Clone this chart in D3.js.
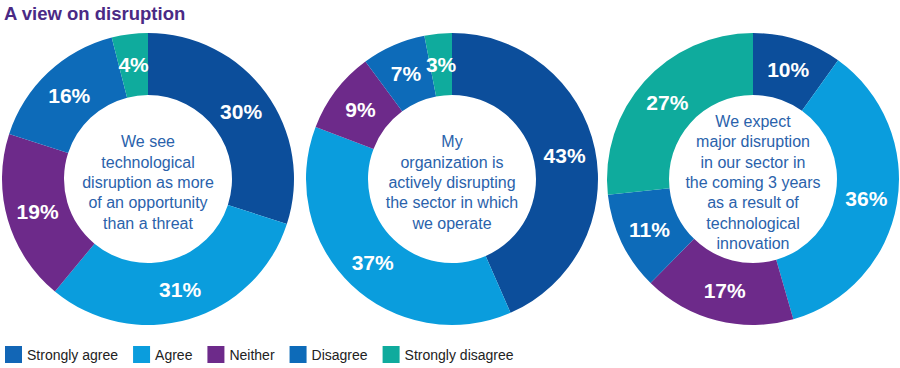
<!DOCTYPE html>
<html>
<head>
<meta charset="utf-8">
<script src="https://cdn.jsdelivr.net/npm/d3@7"></script>
<style>
  body { margin: 0; background: #fff; }
  svg { display: block; font-family: "Liberation Sans", Arial, sans-serif; }
</style>
</head>
<body>
<div id="chart"></div>
<script>
// data
const categories = ["Strongly agree", "Agree", "Neither", "Disagree", "Strongly disagree"];
const valuesOpportunity = [30, 31, 19, 16, 4];
const valuesDisrupting = [43, 37, 9, 7, 3];
const valuesExpect = [10, 36, 17, 11, 27];
const statements = [
    ["We see", "technological", "disruption as more", "of an opportunity", "than a threat"],
    ["My", "organization is", "actively disrupting", "the sector in which", "we operate"],
    ["We expect", "major disruption", "in our sector in", "the coming 3 years", "as a result of", "technological", "innovation"]
];
const title = "A view on disruption";

const colors = ["#0c4e9b", "#0a9ddd", "#6d2a8a", "#0d6bb9", "#0fab9d"];

const width = 900, height = 368;

const svg = d3.select("#chart").append("svg")
    .attr("width", width)
    .attr("height", height);

svg.append("text")
    .attr("x", 4)
    .attr("y", 20)
    .attr("fill", "#4a2a85")
    .style("font-size", "18.5px")
    .style("font-weight", "bold")
    .text(title);

let color = d3.scaleOrdinal().domain(categories).range(colors);

const pie = d3.pie().sort(null).value(d => d.value);
const outerR = 146, innerR = 84;
const arc = d3.arc().innerRadius(innerR).outerRadius(outerR);

const donuts = [
    {cx: 148, values: valuesOpportunity, lines: statements[0]},
    {cx: 452, values: valuesDisrupting, lines: statements[1]},
    {cx: 753, values: valuesExpect, lines: statements[2]}
];
const cy = 179;

donuts.forEach(dn => {
    let data = categories.map((c, i) => ({cat: c, value: dn.values[i]}));
    let g = svg.append("g").attr("transform", `translate(${dn.cx},${cy})`);

    g.selectAll("path")
        .data(pie(data))
        .enter().append("path")
        .attr("d", arc)
        .attr("fill", d => color(d.data.cat));

    g.selectAll("text.pct")
        .data(pie(data))
        .enter().append("text")
        .attr("class", "pct")
        .attr("transform", d => `translate(${arc.centroid(d)})`)
        .attr("text-anchor", "middle")
        .attr("dy", "0.36em")
        .attr("fill", "#fff")
        .style("font-size", "21px")
        .style("font-weight", "bold")
        .text(d => d.data.value + "%");

    // statement in the hole
    let lh = 20.3;
    let n = dn.lines.length;
    g.append("text")
        .attr("text-anchor", "middle")
        .attr("fill", "#2a62ab")
        .style("font-size", "16px")
        .selectAll("tspan")
        .data(dn.lines)
        .enter().append("tspan")
        .attr("x", 0)
        .attr("y", (d, i) => (i - (n - 1) / 2) * lh + 9)
        .text(d => d);
});

// legend
const legend = svg.append("g").attr("transform", "translate(5,346)");
let lx = 0;
categories.forEach((c, i) => {
    let item = legend.append("g").attr("transform", `translate(${lx},0)`);
    item.append("rect")
        .attr("width", 17)
        .attr("height", 17)
        .attr("fill", i === 0 ? "#1266b6" : colors[i]);
    let t = item.append("text")
        .attr("x", 22)
        .attr("y", 14)
        .attr("fill", "#222")
        .style("font-size", "14px")
        .text(c);
    lx += 22 + t.node().getComputedTextLength() + 15;
});
</script>
</body>
</html>
